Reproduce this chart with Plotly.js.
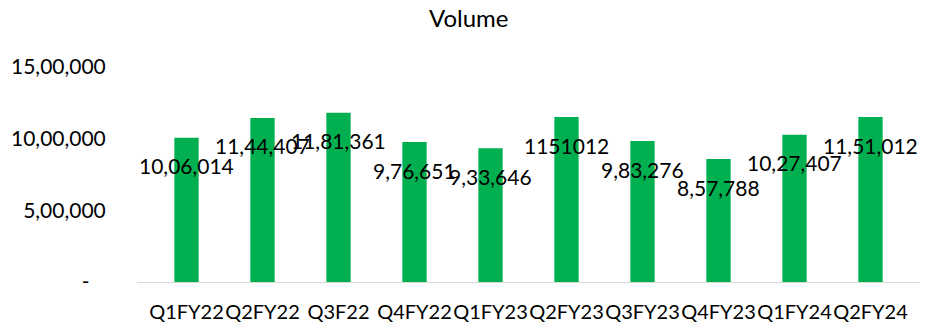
<!DOCTYPE html>
<html>
<head>
<meta charset="utf-8">
<script src="https://cdn.plot.ly/plotly-3.0.1.min.js"></script>
<style>html,body{margin:0;padding:0;background:#fff;}#chart{width:945px;height:328px;}</style>
</head>
<body>
<div id="chart"></div>
<script>
const categories = ["Q1FY22","Q2FY22","Q3F22","Q4FY22","Q1FY23","Q2FY23","Q3FY23","Q4FY23","Q1FY24","Q2FY24"];
const volumes = [1006014, 1144407, 1181361, 976651, 933646, 1151012, 983276, 857788, 1027407, 1151012];
const valueLabels = ["10,06,014","11,44,407","11,81,361","9,76,651","9,33,646","1151012","9,83,276","8,57,788","10,27,407","11,51,012"];
const yTickValues = [0, 500000, 1000000, 1500000];
const yTickLabels = ["-\u00a0\u00a0\u00a0", "5,00,000", "10,00,000", "15,00,000"];

const FONT = "Lato, 'Open Sans', sans-serif";

const trace = {
  type: "bar",
  x: categories,
  y: volumes,
  marker: {color: "#00B050"},
  hoverinfo: "x+y"
};

const annotations = categories.map((c, i) => ({
  x: c, y: volumes[i], xref: "x", yref: "y",
  text: valueLabels[i],
  showarrow: false,
  xanchor: "center", yanchor: "middle",
  yshift: -28,
  font: {family: FONT, size: 21, color: "#000"}
}));

const layout = {
  width: 945, height: 328,
  margin: {l: 137, r: 25, t: 67, b: 46},
  paper_bgcolor: "#fff", plot_bgcolor: "#fff",
  bargap: 0.68,
  showlegend: false,
  title: {text: "Volume", x: 0.496, xanchor: "center", y: 0.942, yanchor: "middle",
          font: {family: FONT, size: 24, color: "#000"}},
  xaxis: {
    type: "category",
    showline: true, linecolor: "#d9d9d9", linewidth: 1,
    showgrid: false, zeroline: false,
    tickangle: 0,
    ticks: "outside", ticklen: 12, tickcolor: "rgba(0,0,0,0)",
    tickfont: {family: FONT, size: 20, color: "#000"}
  },
  yaxis: {
    range: [0, 1500000],
    showgrid: false, zeroline: false, showline: false,
    tickmode: "array", tickvals: yTickValues, ticktext: yTickLabels,
    ticks: "outside", ticklen: 26, tickcolor: "rgba(0,0,0,0)",
    tickfont: {family: FONT, size: 21, color: "#000"}
  },
  annotations: annotations
};

Plotly.newPlot("chart", [trace], layout, {displayModeBar: false, staticPlot: true});
</script>
</body>
</html>
